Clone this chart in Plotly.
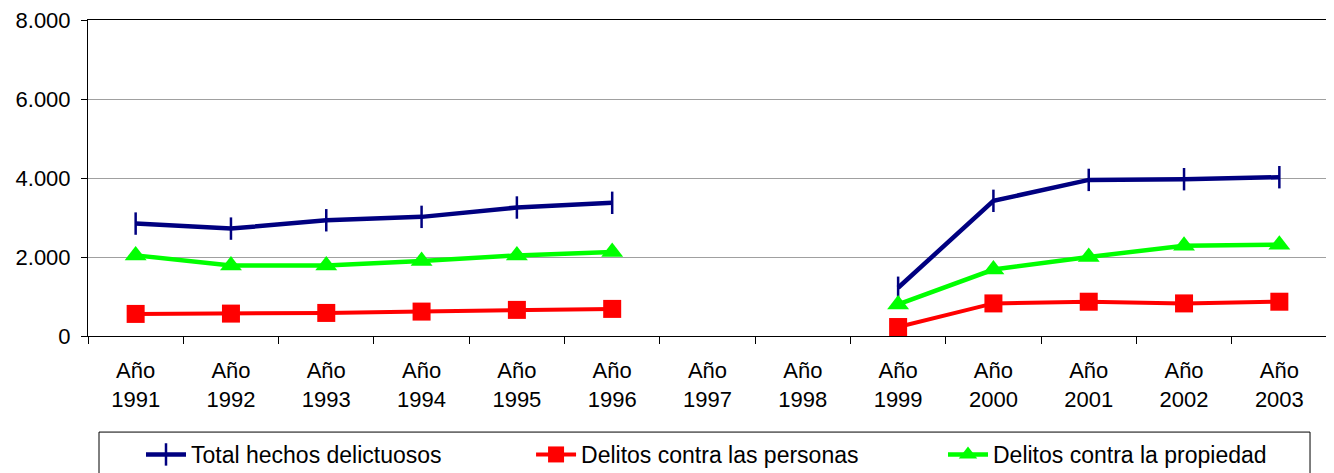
import plotly.graph_objects as go

categories = ["Año<br>1991", "Año<br>1992", "Año<br>1993", "Año<br>1994", "Año<br>1995",
              "Año<br>1996", "Año<br>1997", "Año<br>1998", "Año<br>1999", "Año<br>2000",
              "Año<br>2001", "Año<br>2002", "Año<br>2003"]
total = [2846, 2719, 2930, 3016, 3253, 3372, None, None, 1221, 3422, 3952, 3970, 4020]
personas = [559, 567, 584, 618, 661, 686, None, None, 227, 825, 868, 825, 868]
propiedad = [2041, 1787, 1787, 1898, 2041, 2127, None, None, 800, 1682, 2002, 2287, 2313]
y_ticks = [0, 2000, 4000, 6000, 8000]

font_family = "Liberation Sans, Arial, sans-serif"

fig = go.Figure()
fig.add_trace(go.Scatter(
    x=categories, y=total, name="Total hechos delictuosos", mode="lines+markers",
    line=dict(color="#000080", width=4.5),
    marker=dict(symbol="line-ns", size=16, line=dict(color="#000080", width=2.5), color="#000080"),
    connectgaps=False, legend="legend"))
fig.add_trace(go.Scatter(
    x=categories, y=personas, name="Delitos contra las personas", mode="lines+markers",
    line=dict(color="#FF0000", width=4),
    marker=dict(symbol="square", size=18, color="#FF0000"),
    connectgaps=False, legend="legend2"))
fig.add_trace(go.Scatter(
    x=categories, y=propiedad, name="Delitos contra la propiedad", mode="lines+markers",
    line=dict(color="#00FF00", width=4.5),
    marker=dict(symbol="triangle-up", size=19, color="#00FF00"),
    connectgaps=False, legend="legend3"))

def leg(xc):
    return dict(orientation="h", xref="container", yref="container",
                x=xc, xanchor="left", y=0.1015, yanchor="top",
                borderwidth=0, bgcolor="rgba(0,0,0,0)",
                font=dict(family=font_family, size=23), itemwidth=40)

fig.update_layout(
    width=1334, height=473,
    margin=dict(l=80, r=15, t=12, b=145, autoexpand=False),
    paper_bgcolor="white", plot_bgcolor="white",
    separators=",.",
    font=dict(family=font_family, size=22, color="black"),
    showlegend=True,
    legend=leg(0.0997), legend2=leg(0.3921), legend3=leg(0.7009),
)
# legend frame
fig.add_shape(type="rect", xref="paper", yref="paper",
              x0=0.00888, x1=0.9863, y0=-0.304, y1=-0.50,
              line=dict(color="black", width=1), fillcolor="rgba(0,0,0,0)", layer="above")

fig.update_xaxes(
    type="category", categoryorder="array", categoryarray=categories,
    tickson="boundaries", ticks="outside", ticklen=7, tickcolor="black",
    showline=True, linecolor="black", linewidth=1, mirror=True,
    showgrid=False, tickfont=dict(size=22), range=[-0.5, 12.5],
    ticklabelstandoff=15, ticklabeloverflow="allow")
fig.update_yaxes(
    range=[0, 8000], tickvals=y_ticks, tickformat=",d",
    ticks="outside", ticklen=6, tickcolor="black",
    showline=True, linecolor="black", linewidth=1, mirror=True,
    showgrid=True, gridcolor="#A0A0A0", gridwidth=1,
    zeroline=False, tickfont=dict(size=22), ticklabelstandoff=6,
    ticklabeloverflow="allow")

fig.write_html("out.html")
